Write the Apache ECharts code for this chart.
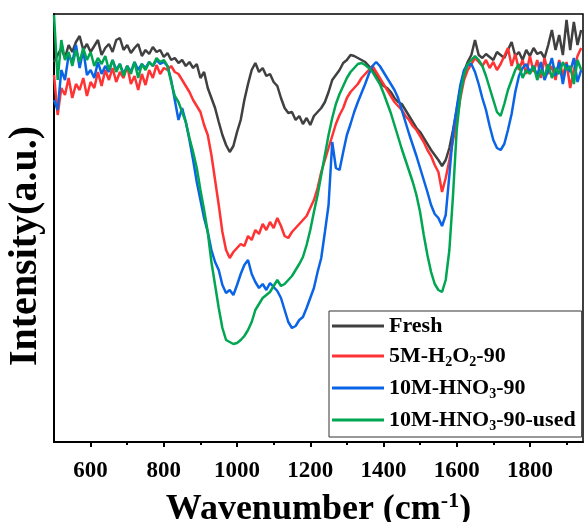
<!DOCTYPE html>
<html>
<head>
<meta charset="utf-8">
<script src="https://cdn.jsdelivr.net/npm/echarts@6/dist/echarts.min.js"></script>
<style>
  html, body { margin: 0; padding: 0; background: #fff; }
  #main { width: 584px; height: 522px; }
</style>
</head>
<body>
<div id="main"></div>
<script>
// wavenumber grid (cm-1)
const wavenumber = [
  500, 510, 520, 530, 540, 550, 560, 570, 580, 590,
  600, 610, 620, 630, 640, 650, 660, 670, 680, 690,
  700, 710, 720, 730, 740, 750, 760, 770, 780, 790,
  800, 810, 820, 830, 840, 850, 860, 870, 880, 890,
  900, 910, 920, 930, 940, 950, 960, 970, 980, 990,
  1000, 1010, 1020, 1030, 1040, 1050, 1060, 1070, 1080, 1090,
  1100, 1110, 1120, 1130, 1140, 1150, 1160, 1170, 1180, 1190,
  1200, 1210, 1220, 1230, 1240, 1250, 1260, 1270, 1280, 1290,
  1300, 1310, 1320, 1330, 1340, 1350, 1360, 1370, 1380, 1390,
  1400, 1410, 1420, 1430, 1440, 1450, 1460, 1470, 1480, 1490,
  1500, 1510, 1520, 1530, 1540, 1550, 1560, 1570, 1580, 1590,
  1600, 1610, 1620, 1630, 1640, 1650, 1660, 1670, 1680, 1690,
  1700, 1710, 1720, 1730, 1740, 1750, 1760, 1770, 1780, 1790,
  1800, 1810, 1820, 1830, 1840, 1850, 1860, 1870, 1880, 1890,
  1900, 1910, 1920, 1930, 1940
];

const fresh = [
  380, 387, 394, 384, 397, 390, 400, 406, 392, 398,
  390, 396, 402, 387, 394, 398, 390, 402, 404, 392,
  397, 389, 394, 398, 386, 392, 388, 395, 390, 392,
  385, 389, 382, 384, 379, 382, 376, 380, 374, 378,
  364, 370, 354, 344, 334, 320, 307, 297, 290, 296,
  310, 322, 342, 358, 372, 379, 370, 374, 366, 368,
  360, 356, 344, 334, 329, 330, 322, 326, 318, 324,
  317, 326, 330, 334, 340, 350, 362, 367, 372, 379,
  382, 387, 386, 384, 382, 380, 376, 372, 368, 360,
  356, 354, 350, 344, 340, 338, 332, 326, 320, 314,
  310, 304, 298, 292, 287, 282, 276, 282, 294, 312,
  332, 354, 370, 380, 387, 402, 387, 384, 388, 385,
  382, 390, 387, 384, 392, 400, 386, 390, 382, 392,
  386, 394, 388, 390, 384, 397, 412, 392, 407, 387,
  422, 392, 420, 397, 412
];

const h2o2 = [
  367, 327, 354, 347, 364, 344, 358, 352, 364, 346,
  360, 354, 370, 356, 372, 362, 374, 360, 370, 364,
  376, 358, 366, 352, 368, 357, 372, 364, 377, 368,
  374, 372, 376, 370, 368, 362, 356, 350, 342, 336,
  330, 317, 307, 287, 262, 237, 210, 192, 184, 190,
  194, 198, 196, 206, 202, 212, 208, 218, 212, 220,
  214, 224, 216, 206, 204, 210, 214, 218, 222, 226,
  234, 242, 254, 270, 282, 294, 306, 318, 327, 334,
  344, 350, 354, 358, 364, 368, 372, 376, 370, 364,
  358, 352, 346, 340, 336, 332, 326, 322, 316, 312,
  306, 300, 292, 286, 277, 270, 250, 264, 282, 302,
  320, 344, 362, 372, 378, 384, 380, 376, 382, 374,
  380, 372, 378, 386, 394, 376, 388, 372, 382, 368,
  386, 370, 382, 364, 384, 368, 376, 362, 382, 366,
  380, 354, 372, 386, 394
];

const hno3 = [
  342, 332, 372, 362, 387, 380, 397, 374, 392, 367,
  372, 364, 380, 368, 376, 370, 382, 372, 378, 368,
  376, 370, 380, 372, 378, 374, 380, 376, 382, 378,
  380, 376, 362, 342, 322, 334, 320, 302, 282, 260,
  242, 224, 210, 192, 180, 172, 157, 149, 152, 147,
  157, 168, 177, 182, 168, 160, 154, 158, 152, 159,
  155, 151, 144, 132, 120, 114, 116, 122, 125, 134,
  144, 154, 170, 184, 210, 237, 300, 274, 272, 290,
  307, 318, 330, 340, 349, 358, 368, 376, 380, 376,
  370, 364, 358, 352, 344, 332, 320, 308, 297, 286,
  274, 262, 250, 237, 228, 224, 216, 227, 267, 309,
  334, 357, 372, 377, 378, 370, 358, 344, 332, 316,
  302, 294, 292, 298, 312, 328, 350, 366, 374, 378,
  370, 376, 366, 380, 362, 372, 384, 366, 380, 358,
  378, 370, 384, 360, 372
];

const hno3Used = [
  427, 362, 402, 382, 390, 376, 392, 380, 394, 382,
  390, 376, 384, 378, 386, 372, 382, 370, 378, 366,
  376, 368, 380, 364, 378, 372, 380, 376, 384, 380,
  382, 376, 360, 346, 340, 330, 320, 304, 290, 274,
  252, 232, 210, 180, 157, 134, 114, 102, 100, 98,
  99, 102, 106, 112, 120, 132, 138, 144, 147, 150,
  156, 162, 156, 158, 162, 166, 172, 178, 185, 197,
  212, 230, 247, 267, 287, 307, 324, 338, 348, 356,
  364, 370, 374, 378, 379, 377, 374, 370, 364, 358,
  349, 339, 329, 317, 305, 293, 282, 271, 260, 247,
  230, 207, 187, 170, 158, 152, 150, 162, 192, 247,
  312, 347, 367, 378, 382, 386, 382, 376, 366, 354,
  342, 330, 326, 338, 352, 362, 372, 378, 364, 372,
  368, 376, 362, 372, 366, 378, 364, 374, 368, 380,
  372, 376, 358, 382, 372
];

const seriesNames = ['Fresh', '5M-H2O2-90', '10M-HNO3-90', '10M-HNO3-90-used'];
const seriesColors = ['#404040', '#ff3333', '#0a64e6', '#00a651'];
const legendLabels = {
  'Fresh': 'Fresh',
  '5M-H2O2-90': '5M-H{sub|2}O{sub|2}-90',
  '10M-HNO3-90': '10M-HNO{sub|3}-90',
  '10M-HNO3-90-used': '10M-HNO{sub|3}-90-used'
};
const majorTicks = [600, 800, 1000, 1200, 1400, 1600, 1800];
const minorTicks = [700, 900, 1100, 1300, 1500, 1700, 1900];

const font = 'Liberation Serif, Times New Roman, serif';

function pairs(ys) {
  return wavenumber.map((w, i) => [w, ys[i]]);
}

const chart = echarts.init(document.getElementById('main'));
const allData = [fresh, h2o2, hno3, hno3Used];

const option = {
  animation: false,
  grid: {
    left: 54, right: 1, top: 14, bottom: 80,
    outerBoundsMode: 'none',
    show: true, borderColor: '#000', borderWidth: 1.5
  },
  legend: {
    orient: 'vertical',
    left: 329, top: 311,
    padding: [4, 6, 4, 3],
    icon: 'rect',
    itemWidth: 52, itemHeight: 3, itemGap: 8,
    borderColor: '#333', borderWidth: 1,
    backgroundColor: '#fff',
    data: seriesNames,
    formatter: name => legendLabels[name],
    textStyle: {
      fontFamily: font, fontWeight: 'bold', fontSize: 22, color: '#000',
      rich: {
        sub: { fontFamily: font, fontWeight: 'bold', fontSize: 14, color: '#000', padding: [12, 0, 0, 0] }
      }
    }
  },
  xAxis: [
    {
      type: 'value', min: 500, max: 1945,
      name: 'Wavenumber (cm{sup|-1})',
      nameLocation: 'middle', nameGap: 48,
      nameTextStyle: {
        fontFamily: font, fontWeight: 'bold', fontSize: 36, color: '#000',
        rich: {
          sup: { fontFamily: font, fontWeight: 'bold', fontSize: 22, color: '#000', padding: [0, 0, 18, 0] }
        }
      },
      splitLine: { show: false },
      axisLine: { lineStyle: { color: '#000', width: 2 } },
      axisTick: { customValues: majorTicks, length: 5, lineStyle: { color: '#000', width: 2 } },
      axisLabel: {
        customValues: majorTicks, margin: 18,
        formatter: v => String(v),
        fontFamily: font, fontWeight: 'bold', fontSize: 23, color: '#000'
      }
    },
    {
      type: 'value', min: 500, max: 1945, position: 'bottom',
      splitLine: { show: false },
      axisLine: { show: false },
      axisTick: { customValues: minorTicks, length: 3, lineStyle: { color: '#000', width: 2 } },
      axisLabel: { show: false }
    }
  ],
  yAxis: {
    type: 'value', min: 0, max: 428,
    name: 'Intensity(a.u.)',
    nameLocation: 'middle', nameRotate: 90, nameGap: 8,
    nameTextStyle: {
      fontFamily: font, fontWeight: 'bold', fontSize: 40, color: '#000',
      padding: [0, 36, 0, 0]
    },
    splitLine: { show: false },
    axisLine: { show: true, lineStyle: { color: '#000', width: 2 } },
    axisTick: { show: false },
    axisLabel: { show: false }
  },
  series: seriesNames.map((name, i) => ({
    name: name,
    type: 'line',
    data: pairs(allData[i]),
    symbol: 'none',
    color: seriesColors[i],
    lineStyle: { width: 2.5, color: seriesColors[i] },
    z: 2 + i
  }))
};

chart.setOption(option);
</script>
</body>
</html>
